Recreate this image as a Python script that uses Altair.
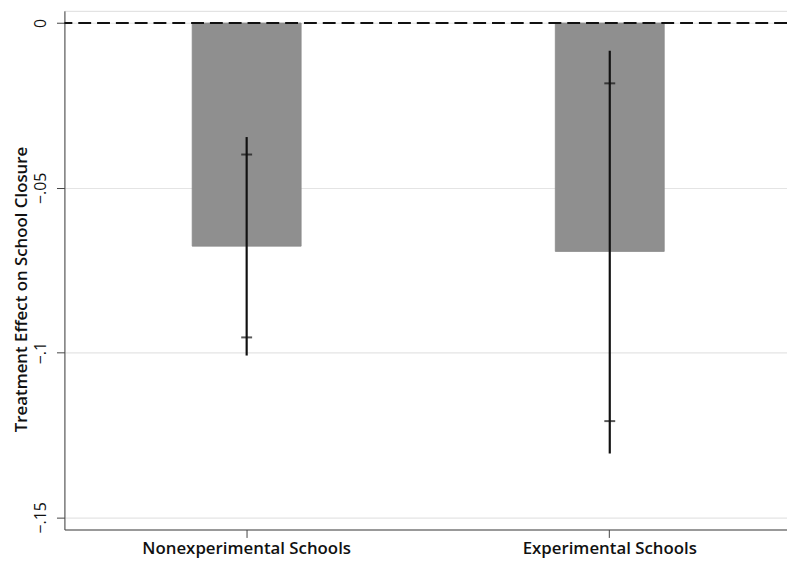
import altair as alt
import pandas as pd

categories = ["Nonexperimental Schools", "Experimental Schools"]
estimate = [-0.0677, -0.0693]
ci_outer_hi = [-0.0346, -0.0084]
ci_outer_lo = [-0.1009, -0.1306]
ci_inner_hi = [-0.0399, -0.0183]
ci_inner_lo = [-0.0954, -0.1208]

df = pd.DataFrame({
    "group": categories,
    "est": estimate,
    "hi": ci_outer_hi,
    "lo": ci_outer_lo,
    "ihi": ci_inner_hi,
    "ilo": ci_inner_lo,
})

FONT = "Open Sans"

x = alt.X(
    "group:N",
    sort=categories,
    scale=alt.Scale(paddingInner=0.7, paddingOuter=0.345, align=0.51),
    axis=alt.Axis(
        title=None, labelAngle=0, labelFont=FONT, labelFontSize=17,
        labelFontWeight=600, labelColor="#111", tickSize=8, tickColor="#444",
        domainColor="#444", labelPadding=3, grid=False, labelLimit=0,
    ),
)

yscale = alt.Scale(domain=[-0.1537, 0.0037], nice=False, zero=False)

bars = alt.Chart(df).mark_bar(color="#8f8f8f", stroke="#888888", strokeWidth=0.8).encode(
    x=x,
    y=alt.Y(
        "est:Q", scale=yscale,
        axis=alt.Axis(
            values=[0, -0.05, -0.1, -0.15],
            labelExpr="datum.value == 0 ? '0' : '\u2212' + replace(format(abs(datum.value), '.2~f'), '0.', '.')",
            title="Treatment Effect on School Closure",
            titleFont=FONT, titleFontSize=17, titleFontWeight=600, titleColor="#111",
            titleAngle=270, titleX=-38, titleY=281, titleAlign="center", titleBaseline="alphabetic",
            labelFont=FONT, labelFontSize=16, labelColor="#111", labelAngle=270,
            labelAlign="center", labelBaseline="middle", labelPadding=16,
            tickSize=8, tickColor="#444", domainColor="#444",
            grid=True, gridColor="#e4e4e4", gridWidth=1.2,
        ),
    ),
    y2=alt.datum(0),
)

rule = alt.Chart(df).mark_rule(color="#111", strokeWidth=2.2).encode(
    x=alt.X("group:N", sort=categories), y="hi:Q", y2="lo:Q"
)

tick_hi = alt.Chart(df).mark_tick(color="#111", size=11, thickness=2).encode(
    x=alt.X("group:N", sort=categories), y="ihi:Q"
)
tick_lo = alt.Chart(df).mark_tick(color="#111", size=11, thickness=2).encode(
    x=alt.X("group:N", sort=categories), y="ilo:Q"
)

zero = alt.Chart(pd.DataFrame({"z": [0]})).mark_rule(
    color="#111", strokeWidth=2, strokeDash=[13, 6]
).encode(y="z:Q")

chart = alt.layer(bars, rule, tick_hi, tick_lo, zero).properties(
    width=730, height=524,
    autosize=alt.AutoSizeParams(type="none"),
    padding={"left": 57, "top": 0, "right": 0, "bottom": 36},
).configure_view(stroke=None).configure(background="white")

chart.save("out.html", embed_options={"renderer": "svg", "actions": False})
